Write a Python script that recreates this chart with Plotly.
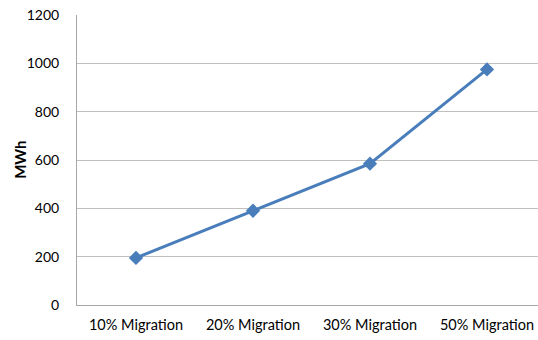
import plotly.graph_objects as go

categories = ["10% Migration", "20% Migration", "30% Migration", "50% Migration"]
energy_mwh = [195, 390, 585, 975]
y_ticks = [0, 200, 400, 600, 800, 1000, 1200]

fig = go.Figure(
    go.Scatter(
        x=categories,
        y=energy_mwh,
        mode="lines+markers",
        line=dict(color="#4A7EBB", width=3),
        marker=dict(symbol="diamond", size=11, color="#4A7EBB"),
        showlegend=False,
    )
)

fig.update_layout(
    width=538,
    height=340,
    margin=dict(l=77, r=0, t=15, b=35),
    paper_bgcolor="white",
    plot_bgcolor="white",
    font=dict(family="Lato, Carlito, sans-serif", size=14, color="#000000"),
)

fig.update_xaxes(
    type="category",
    range=[-0.504, 3.436],
    showline=True,
    linecolor="#A6A6A6",
    linewidth=1,
    showgrid=False,
    ticks="",
    ticklabelstandoff=7,
    tickfont=dict(size=14.5),
)

fig.update_yaxes(
    range=[0, 1200],
    tickvals=y_ticks,
    showline=True,
    linecolor="#A6A6A6",
    linewidth=1,
    showgrid=True,
    gridcolor="#BFBFBF",
    gridwidth=1,
    zeroline=False,
    ticks="",
    ticklabelstandoff=14,
    tickfont=dict(size=14),
)

# Vertical axis title placed beside the tick labels
fig.add_annotation(
    text="<b>MWh</b>",
    xref="paper",
    yref="paper",
    x=-0.124,
    y=0.5,
    xanchor="center",
    yanchor="middle",
    textangle=-90,
    showarrow=False,
    font=dict(size=15),
)

fig.write_html("out.html")
